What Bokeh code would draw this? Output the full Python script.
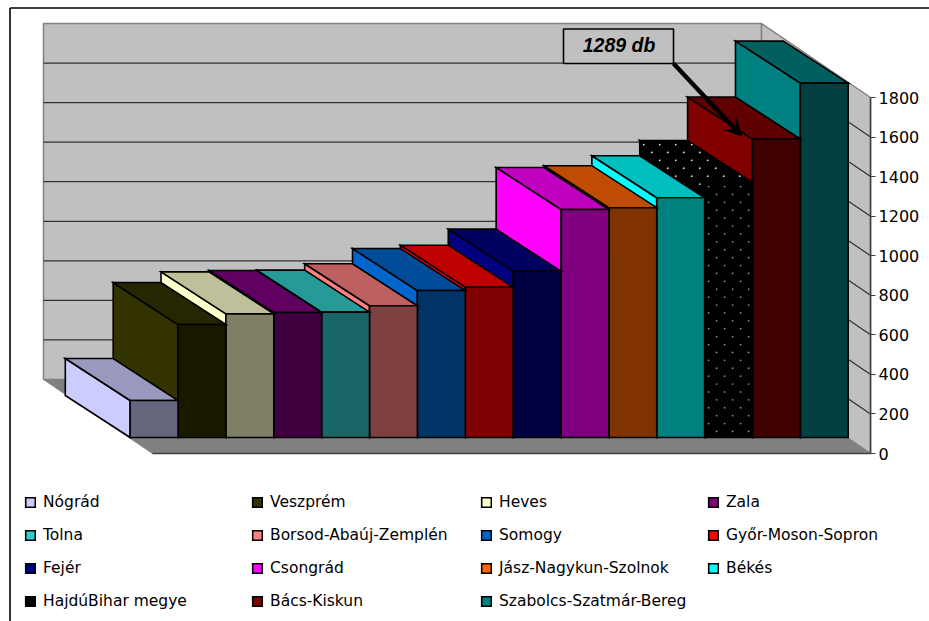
from bokeh.plotting import figure
from bokeh.models import (Arrow, VeeHead, FixedTicker, Label, Legend, LegendItem,
                          LinearAxis, Range1d)
from bokeh.core.properties import value
from bokeh.embed import file_html
from bokeh.resources import INLINE
import numpy as np

counties = ["Nógrád", "Veszprém", "Heves", "Zala", "Tolna", "Borsod-Abaúj-Zemplén",
            "Somogy", "Győr-Moson-Sopron", "Fejér", "Csongrád",
            "Jász-Nagykun-Szolnok", "Békés", "HajdúBihar megye", "Bács-Kiskun",
            "Szabolcs-Szatmár-Bereg"]
counts = [187, 571, 625, 632, 634, 666, 743, 760, 841, 1153, 1162, 1212, 1289, 1509, 1792]
colors = ["#CCCCFF", "#333300", "#FFFFCC", "#800080", "#33CCCC", "#FF8080", "#0066CC",
          "#FF0000", "#000080", "#FF00FF", "#FF6600", "#00FFFF", "#000000", "#800000",
          "#008080"]
y_ticks = [0, 200, 400, 600, 800, 1000, 1200, 1400, 1600, 1800]
callout_value = 1289

# scale: image pixels <-> data units
PX_PER_SLOT = 47.87
UNITS_PER_PX = 1800 / 356
ORIGIN_X, ORIGIN_Y = 152, 453        # front-left floor corner in image pixels
W, H = 929, 621


def px(x):
    return (x - ORIGIN_X) / PX_PER_SLOT


def py(y):
    return (ORIGIN_Y - y) * UNITS_PER_PX


# oblique projection: depth 0 = front of floor, depth 1 = back wall
DX = -109 / PX_PER_SLOT
DY = 74 * UNITS_PER_PX


def proj(slot, depth, val):
    return slot + depth * DX, val + depth * DY


def face(*pts):
    c = [proj(*q) for q in pts]
    return [a for a, _ in c], [b for _, b in c]


# bars sit inset on the floor, with a slightly flatter receding edge than the floor's
FRONT_X, BACK_X = 0.205, 0.80
FRONT_Y, BACK_Y = 16 / 74, 58 / 74


def bar_face(*pts):
    xs_, ys_ = [], []
    for slot, back, val in pts:
        xs_.append(slot + (BACK_X if back else FRONT_X) * DX)
        ys_.append(val + (BACK_Y if back else FRONT_Y) * DY)
    return xs_, ys_


def shade(hex_color, k):
    r, g, b = (int(hex_color[i:i + 2], 16) for i in (1, 3, 5))
    return "#%02X%02X%02X" % (int(r * k), int(g * k), int(b * k))


p = figure(width=W, height=H, output_backend="svg", toolbar_location=None,
           x_range=Range1d(px(0), px(W)), y_range=Range1d(py(H), py(0)),
           x_axis_location=None, y_axis_location=None, min_border=0)
p.grid.visible = False
p.outline_line_color = None
p.background_fill_color = "white"
p.border_fill_color = "white"

# outer chart frame
p.segment([px(9.5), px(9.5)], [py(7.5), py(7.5)], [px(9.5), px(929)], [py(621), py(7.5)],
          line_color="black", line_width=1.6)

n = len(counts)
top = y_ticks[-1]
wall_line = "#808080"
xs, ys = face((0, 1, 0), (n, 1, 0), (n, 1, top), (0, 1, top))
p.patch(xs, ys, fill_color="#C0C0C0", line_color=wall_line, line_width=1.5)
xs, ys = face((n, 1, 0), (n, 0, 0), (n, 0, top), (n, 1, top))
p.patch(xs, ys, fill_color="#C0C0C0", line_color=wall_line, line_width=1.5)

# gridlines on the back and the right wall
for t in y_ticks[1:-1]:
    xs, ys = face((0, 1, t), (n, 1, t), (n, 0, t))
    p.line(xs, ys, line_color="#303030", line_width=1.2)

# floor
xs, ys = face((0, 1, 0), (n, 1, 0), (n, 0, 0), (0, 0, 0))
p.patch(xs, ys, fill_color="#808080", line_color="#808080", line_width=1)
xs, ys = face((0, 0, 0), (n, 0, 0))
p.line(xs, ys, line_color="#404040", line_width=1.5)

sides = {}


def inside(x, y, pxs, pys):
    c = False
    for i in range(len(pxs)):
        j = i - 1
        if (pys[i] > y) != (pys[j] > y):
            if x < pxs[i] + (y - pys[i]) / (pys[j] - pys[i]) * (pxs[j] - pxs[i]):
                c = not c
    return c


def dotted(fx, fy, color):
    sx = [ORIGIN_X + a * PX_PER_SLOT for a in fx]
    sy = [ORIGIN_Y - b / UNITS_PER_PX for b in fy]
    dx, dy = [], []
    for r, yy in enumerate(np.arange(min(sy) + 4, max(sy), 7.9)):
        for xx in np.arange(min(sx) + 4 + (r % 2) * 8, max(sx), 16):
            if inside(xx, yy, sx, sy):
                dx.append(px(xx))
                dy.append(py(yy))
    p.scatter(dx, dy, size=1.8, marker="circle", fill_color=color, line_color=None)


for i in reversed(range(n)):
    v, c = counts[i], colors[i]
    kw = dict(line_color="black", line_width=1.6, line_join="miter")
    sx_, sy_ = bar_face((i, 0, 0), (i, 1, 0), (i, 1, v), (i, 0, v))
    sides[i] = p.patch(sx_, sy_, fill_color=c, **kw)
    tx_, ty_ = bar_face((i, 0, v), (i, 1, v), (i + 1, 1, v), (i + 1, 0, v))
    p.patch(tx_, ty_, fill_color=shade(c, 0.75), **kw)
    fx_, fy_ = bar_face((i, 0, 0), (i + 1, 0, 0), (i + 1, 0, v), (i, 0, v))
    p.patch(fx_, fy_, fill_color=shade(c, 0.5), **kw)
    if c == "#000000":
        dotted(sx_, sy_, "#E8E8E8")
        dotted(tx_, ty_, "#E8E8E8")
        dotted(fx_, fy_, "#8A8A8A")

# callout
p.quad(left=[px(563)], right=[px(673)], top=[py(28.5)], bottom=[py(63)],
       fill_color="#C0C0C0", line_color="black", line_width=1.6)
p.add_layout(Label(x=px(618.5), y=py(44.5), text=f"{callout_value} db", text_align="center",
                   text_baseline="middle", text_font="Liberation Sans",
                   text_font_style="bold italic", text_font_size="19.5px", text_color="black"))
p.add_layout(Arrow(end=VeeHead(size=16, fill_color="black", line_color="black", line_width=1),
                   x_start=px(673), y_start=py(63), x_end=px(741), y_end=py(135.5),
                   line_color="black", line_width=4.5))

# value axis at the front-right edge of the side wall
axis = LinearAxis(fixed_location=n, ticker=FixedTicker(ticks=y_ticks), bounds=(0, top))
axis.axis_line_color = "#404040"
axis.axis_line_width = 1.5
axis.major_tick_line_color = "#404040"
axis.major_tick_line_width = 1.2
axis.major_tick_out = 5
axis.major_tick_in = 0
axis.minor_tick_line_color = None
axis.major_label_standoff = 3
axis.major_label_text_font = "DejaVu Sans"
axis.major_label_text_font_size = "16px"
axis.major_label_text_color = "black"
p.add_layout(axis, "right")

# legend: four columns, filled row by row
col_x = [24, 251, 480, 707]
ROW = 33
for j, cx in enumerate(col_x):
    members = list(range(j, n, 4))
    rows = len(members)
    leg = Legend(items=[LegendItem(label=value(counties[k]), renderers=[sides[k]]) for k in members],
                 location=(cx, 11 + (4 - rows) * ROW), orientation="vertical",
                 padding=0, margin=0, spacing=15, glyph_width=12, glyph_height=12,
                 label_standoff=7, label_text_font="DejaVu Sans", label_text_font_size="15.5px",
                 label_text_color="black", background_fill_alpha=0, border_line_alpha=0)
    p.add_layout(leg)

open("out.html", "w").write(file_html(p, INLINE))
